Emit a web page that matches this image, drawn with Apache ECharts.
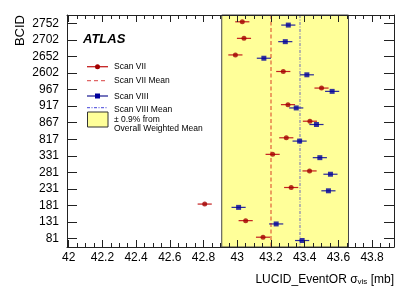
<!DOCTYPE html>
<html><head><meta charset="utf-8">
<script src="https://cdn.jsdelivr.net/npm/echarts@6/dist/echarts.min.js"></script>
<style>html,body{margin:0;padding:0;background:#fff}#c{width:415px;height:295px}</style>
</head><body><div id="c"></div>
<script>
// ---- data ----
const bcids = ['2752','2702','2652','2602','967','917','867','817','331','281','231','181','131','81'];
const scan7 = [43.030,43.040,42.989,43.273,43.500,43.301,43.431,43.291,43.210,43.429,43.320,42.807,43.050,43.153];
const scan7Err = [0.042,0.042,0.042,0.042,0.042,0.042,0.042,0.042,0.042,0.042,0.042,0.042,0.042,0.042];
const scan8 = [43.303,43.285,43.158,43.413,43.563,43.350,43.470,43.370,43.490,43.553,43.541,43.008,43.231,43.385];
const scan8Err = [0.042,0.042,0.042,0.042,0.042,0.042,0.042,0.042,0.042,0.042,0.042,0.042,0.042,0.042];
const scan7Mean = 43.200;
const scan8Mean = 43.366;
const bandLow = 42.908, bandHigh = 43.660;
const xMajorTicks = [42,42.2,42.4,42.6,42.8,43,43.2,43.4,43.6,43.8];
const xTickLabels = ['42','42.2','42.4','42.6','42.8','43','43.2','43.4','43.6','43.8'];
const xMinorTicks = [];
for (let i = 0; i < xMajorTicks.length; i++) {
  for (let k = 1; k < 4; k++) xMinorTicks.push(+(xMajorTicks[i] + k * 0.05).toFixed(3));
}
const yIdx = bcids.map((_, i) => i);

// ---- styles ----
const FONT = 'Liberation Sans, Arial, Helvetica, sans-serif';
const RED = '#a30000', RED_ERR = '#c42020';
const BLUE = '#00009c', BLUE_ERR = '#2a2a9a';
const RED_MEAN = 'rgba(204,0,0,0.42)', BLUE_MEAN = 'rgba(0,0,204,0.36)';
const AX = '#222';
const XMIN = 41.99, XMAX = 43.93;

function errSeries(vals, errs, color, dy) {
  return {
    type: 'custom', silent: true, z: 3, xAxisIndex: 0, yAxisIndex: 0,
    encode: {x: 0, y: 2},
    data: vals.map((v, i) => [v, errs[i], i]),
    renderItem(params, api) {
      const v = api.value(0), e = api.value(1), i = api.value(2);
      const p1 = api.coord([v - e, i]), p2 = api.coord([v + e, i]);
      return {type: 'line', shape: {x1: p1[0], y1: p1[1] + dy, x2: p2[0], y2: p2[1] + dy},
        style: {stroke: color, lineWidth: 1.2}};
    }
  };
}
function xAx(pos, ticks, len, labels, line) {
  return {
    type: 'value', position: pos, min: XMIN, max: XMAX, z: 6,
    axisLine: {show: line, onZero: false, lineStyle: {color: AX, width: 1}},
    axisTick: {show: true, inside: true, length: len, customValues: ticks, lineStyle: {color: AX, width: 1}},
    axisLabel: labels ? {show: true, customValues: xMajorTicks, fontSize: 12, fontFamily: FONT, color: '#000', margin: 5,
      formatter: v => xTickLabels[xMajorTicks.findIndex(t => Math.abs(t - v) < 1e-6)]} : {show: false},
    splitLine: {show: false}
  };
}
function yAx(pos, labels) {
  return {
    type: 'value', position: pos, inverse: true, min: -0.5, max: 13.5, z: 6,
    axisLine: {show: true, onZero: false, lineStyle: {color: AX, width: 1}},
    axisTick: {show: true, inside: true, length: 10, customValues: yIdx, lineStyle: {color: AX, width: 1}},
    axisLabel: labels ? {show: true, customValues: yIdx, fontSize: 12, fontFamily: FONT, color: '#000', margin: 8,
      formatter: v => bcids[Math.round(v)]} : {show: false},
    splitLine: {show: false}
  };
}
function txt(text, x, y, size, extra) {
  return Object.assign({type: 'text', x: x, y: y, z: 20,
    style: {text: text, font: size + 'px ' + FONT, fill: '#000', align: 'left', verticalAlign: 'middle',
      textAlign: 'left', textVerticalAlign: 'middle'}}, extra || {});
}
function hline(x1, x2, y, stroke, dash) {
  return {type: 'line', z: 20, shape: {x1: x1, y1: y, x2: x2, y2: y},
    style: {stroke: stroke, lineWidth: 1.3, lineDash: dash || null}};
}

const chart = echarts.init(document.getElementById('c'), null, {renderer: 'canvas'});
chart.setOption({
  animation: false,
  backgroundColor: '#fff',
  grid: {left: 67, right: 21, top: 15, bottom: 48, containLabel: false, outerBoundsMode: 'none'},
  xAxis: [
    xAx('bottom', xMajorTicks, 7, true, true),
    xAx('bottom', xMinorTicks, 4, false, false),
    xAx('top', xMajorTicks, 7, false, true),
    xAx('top', xMinorTicks, 4, false, false)
  ],
  yAxis: [yAx('left', true), yAx('right', false)],
  series: [
    {
      type: 'scatter', name: 'band', silent: true, z: 1, data: [],
      markArea: {silent: true, itemStyle: {color: '#ffff99', borderColor: '#444', borderWidth: 1},
        data: [[{xAxis: bandLow}, {xAxis: bandHigh}]]},
      markLine: {silent: true, symbol: 'none', label: {show: false},
        data: [
          {xAxis: scan7Mean, lineStyle: {color: RED_MEAN, width: 1.8, type: [4, 2.5]}},
          {xAxis: scan8Mean, lineStyle: {color: BLUE_MEAN, width: 1.6, type: [3, 1.5, 1, 1.5]}}
        ]}
    },
    errSeries(scan7, scan7Err, RED_ERR, -1.5),
    errSeries(scan8, scan8Err, BLUE_ERR, 1.8),
    {type: 'scatter', name: 'Scan VII', z: 4, symbol: 'circle', symbolSize: 5, symbolOffset: [0, -1.5],
      itemStyle: {color: RED}, data: scan7.map((v, i) => [v, i])},
    {type: 'scatter', name: 'Scan VIII', z: 4, symbol: 'rect', symbolSize: 5, symbolOffset: [0, 1.8],
      itemStyle: {color: BLUE}, data: scan8.map((v, i) => [v, i])}
  ],
  graphic: [
    txt('ATLAS', 83, 39.7, 13, {style: {text: 'ATLAS', font: 'italic bold 13px ' + FONT, fill: '#000',
      align: 'left', verticalAlign: 'middle', textAlign: 'left', textVerticalAlign: 'middle'}}),
    hline(87, 108, 66.7, RED_ERR),
    {type: 'circle', z: 21, shape: {cx: 97.5, cy: 66.7, r: 2.5}, style: {fill: RED}},
    txt('Scan VII', 114, 67, 8.5),
    hline(87, 108, 80.7, 'rgba(204,0,0,0.6)', [4, 3]),
    txt('Scan VII Mean', 114, 81, 8.5),
    hline(87, 108, 96, BLUE_ERR),
    {type: 'rect', z: 21, shape: {x: 95, y: 93.5, width: 5, height: 5}, style: {fill: BLUE}},
    txt('Scan VIII', 114, 96.3, 8.5),
    hline(87, 108, 107.7, 'rgba(0,0,204,0.6)', [3, 1.5, 1, 1.5]),
    txt('Scan VIII Mean', 114, 110, 8.5),
    {type: 'rect', z: 20, shape: {x: 87.5, y: 112, width: 20.5, height: 15}, style: {fill: '#ffff99', stroke: '#333', lineWidth: 1}},
    txt('\u00b1 0.9% from', 114, 119.5, 8.5),
    txt('Overall Weighted Mean', 114, 128.7, 8.5),
    txt('BCID', 20, 15, 13, {rotation: Math.PI / 2, style: {text: 'BCID', font: '13px ' + FONT, fill: '#000',
      align: 'right', verticalAlign: 'middle', textAlign: 'right', textVerticalAlign: 'middle'}}),
    {type: 'text', z: 20, x: 394, y: 277.5,
      style: {text: '{a|LUCID_EventOR \u03c3}{b|vis}{a| [mb]}', align: 'right', verticalAlign: 'middle',
        textAlign: 'right', textVerticalAlign: 'middle', fill: '#000',
        rich: {a: {fontSize: 12, fontFamily: FONT, lineHeight: 16, verticalAlign: 'bottom', fill: '#000'},
               b: {fontSize: 8, fontFamily: FONT, lineHeight: 6, verticalAlign: 'bottom', fill: '#000'}}}}
  ]
});
</script></body></html>
